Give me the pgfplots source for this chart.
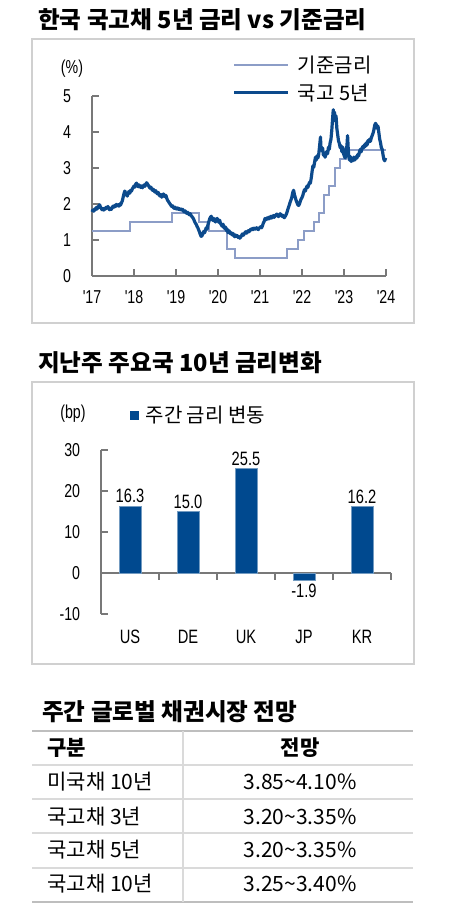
\documentclass[border=0pt]{standalone}
\usepackage{fontspec}
\usepackage{pgfplots}
\pgfplotsset{compat=1.18}
\setmainfont{Noto Sans CJK KR}
\newfontfamily\narrow{Liberation Sans}[FakeStretch=0.76]
\definecolor{kbond}{RGB}{12,74,140}
\definecolor{basec}{RGB}{140,157,199}
\definecolor{barc}{RGB}{0,73,143}
\definecolor{axisg}{RGB}{120,120,120}
\definecolor{frameg}{RGB}{208,208,208}
\definecolor{lineg}{RGB}{218,218,218}
\definecolor{lined}{RGB}{190,190,190}
\newcommand\MyTtl{\fontsize{17.7}{19}\selectfont\bfseries}
\newcommand\MyTk{\narrow\fontsize{14}{14}\selectfont}
\newcommand\MyLg{\fontsize{15}{16}\selectfont}
\newcommand\MyTb{\fontsize{15.8}{17}\selectfont}
\begin{document}
\begin{tikzpicture}
\begin{scope}[x=0.75pt,y=-0.75pt]
\path (0,0) rectangle (454,912);
% titles
\node[anchor=west,inner sep=0pt] at (38,20) {\MyTtl 한국 국고채 5년 금리 vs 기준금리};
\node[anchor=west,inner sep=0pt] at (38,363) {\MyTtl 지난주 주요국 10년 금리변화};
\node[anchor=west,inner sep=0pt] at (42,712) {\MyTtl 주간 글로벌 채권시장 전망};
% frames
\draw[frameg,line width=1.2pt] (32,39) rectangle (414,323);
\draw[frameg,line width=1.2pt] (32,382) rectangle (414,664);
% units
\node[inner sep=0pt] at (72,69) {\MyTk (\%)};
\node[inner sep=0pt] at (73,414) {\MyTk (bp)};
% table
\draw[lined,line width=1.4pt] (32,731) -- (413,731);
\draw[lineg,line width=1.1pt] (32,765) -- (413,765);
\draw[lineg,line width=1.1pt] (32,799) -- (413,799);
\draw[lineg,line width=1.1pt] (32,833) -- (413,833);
\draw[lineg,line width=1.1pt] (32,868) -- (413,868);
\draw[lined,line width=1.4pt] (32,902) -- (413,902);
\draw[lineg,line width=1.1pt] (183,731) -- (183,902);
\node[anchor=west,inner sep=0pt] at (47,748) {\MyTb\bfseries 구분};
\node[inner sep=0pt] at (300,748) {\MyTb\bfseries 전망};
\node[anchor=west,inner sep=0pt] at (47,782) {\MyTb 미국채 10년};
\node[anchor=west,inner sep=0pt] at (47,817) {\MyTb 국고채 3년};
\node[anchor=west,inner sep=0pt] at (47,850) {\MyTb 국고채 5년};
\node[anchor=west,inner sep=0pt] at (47,884) {\MyTb 국고채 10년};
\node[inner sep=0pt] at (300,782) {\MyTb 3.85\textasciitilde4.10\%};
\node[inner sep=0pt] at (300,817) {\MyTb 3.20\textasciitilde3.35\%};
\node[inner sep=0pt] at (300,850) {\MyTb 3.20\textasciitilde3.35\%};
\node[inner sep=0pt] at (300,884) {\MyTb 3.25\textasciitilde3.40\%};
\end{scope}

% ---------- line chart ----------
\begin{axis}[
  at={(69pt,-207pt)}, anchor=south west,
  scale only axis, width=220.5pt, height=135pt,
  xmin=2017, xmax=2024, ymin=0, ymax=5,
  axis lines=left,
  x axis line style={-, axisg, line width=1pt},
  y axis line style={-, axisg, line width=1pt},
  tick style={axisg, line width=0.8pt},
  tick align=inside, major tick length=5pt,
  xtick={2017,2018,2019,2020,2021,2022,2023,2024},
  xticklabels={'17,'18,'19,'20,'21,'22,'23,'24},
  ytick={0,1,2,3,4,5},
  yticklabel style={font=\MyTk, inner sep=0pt, xshift=-15.5pt, /pgf/number format/assume math mode=true},
  xticklabel style={font=\MyTk, inner sep=0pt, yshift=-10.5pt},
  legend style={draw=none, fill=none, at={(0.478,1.24)}, anchor=north west,
    inner sep=0pt, font=\MyLg, row sep=3pt, cells={anchor=west},
    /tikz/every odd column/.append style={column sep=4pt}},
  legend cell align=left,
  legend image code/.code={\draw[#1] (0pt,0pt) -- (40.5pt,0pt);},
  clip=false,
]
\addplot[basec, line width=1.6pt, const plot] coordinates {
(2017.00,1.25) (2017.91,1.50) (2018.91,1.75) (2019.54,1.50) (2019.79,1.25)
(2020.21,0.75) (2020.41,0.50) (2021.65,0.75) (2021.90,1.00) (2022.04,1.25)
(2022.28,1.50) (2022.40,1.75) (2022.53,2.25) (2022.65,2.50) (2022.78,3.00)
(2022.90,3.25) (2023.04,3.50) (2023.99,3.50)
};
\addlegendentry{기준금리}
\addplot[kbond, line width=2.4pt, line join=round] coordinates {
(2017.00,1.78) (2017.02,1.83) (2017.04,1.80) (2017.06,1.86) (2017.08,1.84)
(2017.10,1.90) (2017.12,1.86) (2017.14,1.93) (2017.16,1.90) (2017.18,1.98)
(2017.20,1.92) (2017.22,1.88) (2017.24,1.84) (2017.26,1.87) (2017.28,1.83)
(2017.30,1.88) (2017.32,1.86) (2017.34,1.91) (2017.36,1.89) (2017.38,1.93)
(2017.40,1.87) (2017.42,1.84) (2017.44,1.88) (2017.46,1.85) (2017.48,1.90)
(2017.50,1.94) (2017.52,1.91) (2017.54,1.96) (2017.56,1.93) (2017.58,1.99)
(2017.60,1.95) (2017.62,1.98) (2017.64,1.94) (2017.66,2.00) (2017.68,1.97)
(2017.70,2.03) (2017.72,2.08) (2017.74,2.18) (2017.76,2.28) (2017.78,2.36)
(2017.80,2.31) (2017.82,2.26) (2017.84,2.22) (2017.86,2.30) (2017.88,2.35)
(2017.90,2.30) (2017.92,2.38) (2017.94,2.36) (2017.96,2.42) (2017.98,2.46)
(2018.00,2.50) (2018.02,2.47) (2018.04,2.55) (2018.06,2.58) (2018.08,2.52)
(2018.10,2.48) (2018.12,2.53) (2018.14,2.49) (2018.16,2.46) (2018.18,2.50)
(2018.20,2.45) (2018.22,2.50) (2018.24,2.53) (2018.26,2.49) (2018.28,2.55)
(2018.30,2.59) (2018.32,2.56) (2018.34,2.52) (2018.36,2.48) (2018.38,2.44)
(2018.40,2.47) (2018.42,2.42) (2018.44,2.38) (2018.46,2.41) (2018.48,2.36)
(2018.50,2.33) (2018.52,2.37) (2018.54,2.31) (2018.56,2.28) (2018.58,2.32)
(2018.60,2.25) (2018.62,2.22) (2018.64,2.26) (2018.66,2.19) (2018.68,2.23)
(2018.70,2.28) (2018.72,2.24) (2018.74,2.20) (2018.76,2.24) (2018.78,2.16)
(2018.80,2.10) (2018.82,2.07) (2018.84,2.03) (2018.86,2.00) (2018.88,1.96)
(2018.90,1.93) (2018.92,1.95) (2018.94,1.90) (2018.96,1.88) (2018.98,1.91)
(2019.00,1.87) (2019.02,1.86) (2019.04,1.89) (2019.06,1.85) (2019.08,1.87)
(2019.10,1.84) (2019.12,1.86) (2019.14,1.83) (2019.16,1.85) (2019.18,1.80)
(2019.20,1.78) (2019.22,1.81) (2019.24,1.76) (2019.26,1.74) (2019.28,1.77)
(2019.30,1.72) (2019.32,1.70) (2019.34,1.73) (2019.36,1.68) (2019.38,1.65)
(2019.40,1.62) (2019.42,1.58) (2019.44,1.52) (2019.46,1.47) (2019.48,1.44)
(2019.50,1.38) (2019.52,1.34) (2019.54,1.28) (2019.56,1.22) (2019.58,1.15)
(2019.60,1.10) (2019.62,1.12) (2019.64,1.18) (2019.66,1.24) (2019.68,1.20)
(2019.70,1.27) (2019.72,1.34) (2019.74,1.30) (2019.76,1.42) (2019.78,1.50)
(2019.80,1.58) (2019.82,1.63) (2019.84,1.66) (2019.86,1.58) (2019.88,1.54)
(2019.90,1.60) (2019.92,1.55) (2019.94,1.50) (2019.96,1.56) (2019.98,1.60)
(2020.00,1.54) (2020.02,1.49) (2020.04,1.55) (2020.06,1.46) (2020.08,1.42)
(2020.10,1.38) (2020.12,1.44) (2020.14,1.35) (2020.16,1.32) (2020.18,1.36)
(2020.20,1.26) (2020.22,1.30) (2020.24,1.20) (2020.26,1.26) (2020.28,1.22)
(2020.30,1.17) (2020.32,1.20) (2020.34,1.14) (2020.36,1.18) (2020.38,1.12)
(2020.40,1.09) (2020.42,1.14) (2020.44,1.10) (2020.46,1.12) (2020.48,1.07)
(2020.50,1.09) (2020.52,1.05) (2020.54,1.08) (2020.56,1.12) (2020.58,1.17)
(2020.60,1.13) (2020.62,1.16) (2020.64,1.20) (2020.66,1.23) (2020.68,1.19)
(2020.70,1.22) (2020.72,1.26) (2020.74,1.23) (2020.76,1.27) (2020.78,1.30)
(2020.80,1.28) (2020.82,1.32) (2020.84,1.29) (2020.86,1.33) (2020.88,1.30)
(2020.90,1.31) (2020.92,1.34) (2020.94,1.31) (2020.96,1.29) (2020.98,1.33)
(2021.00,1.35) (2021.02,1.37) (2021.04,1.34) (2021.06,1.40) (2021.08,1.47)
(2021.10,1.52) (2021.12,1.60) (2021.14,1.56) (2021.16,1.61) (2021.18,1.58)
(2021.20,1.63) (2021.22,1.59) (2021.24,1.62) (2021.26,1.66) (2021.28,1.61)
(2021.30,1.65) (2021.32,1.68) (2021.34,1.63) (2021.36,1.67) (2021.38,1.70)
(2021.40,1.72) (2021.42,1.68) (2021.44,1.65) (2021.46,1.69) (2021.48,1.73)
(2021.50,1.70) (2021.52,1.66) (2021.54,1.69) (2021.56,1.64) (2021.58,1.62)
(2021.60,1.66) (2021.62,1.70) (2021.64,1.76) (2021.66,1.84) (2021.68,1.91)
(2021.70,1.98) (2021.72,2.06) (2021.74,2.12) (2021.76,2.20) (2021.78,2.32)
(2021.80,2.38) (2021.82,2.26) (2021.84,2.18) (2021.86,2.10) (2021.88,2.04)
(2021.90,1.98) (2021.92,1.96) (2021.94,2.00) (2021.96,2.08) (2021.98,2.14)
(2022.00,2.18) (2022.02,2.24) (2022.04,2.33) (2022.06,2.40) (2022.08,2.36)
(2022.10,2.44) (2022.12,2.50) (2022.14,2.46) (2022.16,2.54) (2022.18,2.60)
(2022.20,2.58) (2022.22,2.72) (2022.24,2.90) (2022.26,3.06) (2022.28,3.02)
(2022.30,3.16) (2022.32,3.30) (2022.34,3.22) (2022.36,3.34) (2022.38,3.28)
(2022.40,3.40) (2022.42,3.62) (2022.44,3.86) (2022.45,3.60) (2022.47,3.48)
(2022.49,3.56) (2022.51,3.35) (2022.53,3.42) (2022.55,3.30) (2022.57,3.38)
(2022.59,3.46) (2022.61,3.40) (2022.63,3.58) (2022.65,3.52) (2022.67,3.70)
(2022.69,3.80) (2022.71,4.06) (2022.73,4.40) (2022.745,4.62) (2022.76,4.35)
(2022.775,4.55) (2022.79,4.30) (2022.81,4.45) (2022.83,4.10) (2022.85,3.92)
(2022.87,3.75) (2022.89,3.68) (2022.91,3.56) (2022.93,3.62) (2022.95,3.45)
(2022.97,3.58) (2022.99,3.40) (2023.01,3.32) (2023.03,3.28) (2023.05,3.48)
(2023.07,3.62) (2023.085,3.90) (2023.10,3.55) (2023.115,3.30) (2023.13,3.22)
(2023.15,3.32) (2023.17,3.18) (2023.19,3.26) (2023.21,3.20) (2023.23,3.30)
(2023.25,3.22) (2023.27,3.25) (2023.29,3.32) (2023.31,3.28) (2023.33,3.38)
(2023.35,3.34) (2023.37,3.46) (2023.39,3.52) (2023.41,3.45) (2023.43,3.55)
(2023.45,3.60) (2023.47,3.56) (2023.49,3.65) (2023.51,3.60) (2023.53,3.70)
(2023.55,3.64) (2023.57,3.76) (2023.59,3.72) (2023.61,3.80) (2023.63,3.74)
(2023.65,3.84) (2023.67,3.90) (2023.69,3.96) (2023.71,4.05) (2023.73,4.18)
(2023.75,4.24) (2023.77,4.20) (2023.79,4.10) (2023.81,4.16) (2023.83,3.98)
(2023.85,3.80) (2023.87,3.70) (2023.89,3.56) (2023.91,3.52) (2023.93,3.36)
(2023.95,3.24) (2023.97,3.20) (2023.99,3.28)
};
\addlegendentry{국고 5년}
\end{axis}

% ---------- bar chart ----------
\begin{axis}[
  at={(75.75pt,-460.5pt)}, anchor=south west,
  scale only axis, width=217.5pt, height=123pt,
  xmin=-0.5, xmax=4.5, ymin=-10, ymax=30,
  axis y line=left, axis x line=middle,
  x axis line style={-, axisg, line width=1pt},
  y axis line style={-, axisg, line width=1pt},
  hide obscured x ticks=false, hide obscured y ticks=false,
  tick style={axisg, line width=0.8pt},
  tick align=inside, major tick length=5pt,
  xtick={0.5,1.5,2.5,3.5,4.5}, xticklabels={},
  ytick={-10,0,10,20,30},
  yticklabel style={font=\MyTk, inner sep=0pt, xshift=-15.5pt, /pgf/number format/assume math mode=true},
  ybar, bar width=16.5pt,
  nodes near coords={\pgfmathprintnumber[fixed,fixed zerofill,precision=1,assume math mode=true]{\pgfplotspointmeta}},
  nodes near coords align={vertical},
  every node near coord/.append style={font=\narrow\fontsize{14.5}{14.5}\selectfont, inner sep=2pt},
  legend style={draw=none, fill=none, at={(0.1,1.213)}, anchor=west,
    inner sep=0pt, font=\MyLg, cells={anchor=west},
    /tikz/every odd column/.append style={column sep=3pt}},
  legend image code/.code={\fill[barc] (0pt,-3pt) rectangle (6pt,3pt);},
  clip=false,
]
\addplot[fill=barc, draw=barc!55!white, line width=0.5pt] coordinates {
(0,16.3) (1,15.0) (2,25.5) (3,-1.9) (4,16.2)
};
\addlegendentry{주간 금리 변동}
\node[font=\narrow\fontsize{14.5}{14.5}\selectfont] at (axis cs:0,-15.6) {US};
\node[font=\narrow\fontsize{14.5}{14.5}\selectfont] at (axis cs:1,-15.6) {DE};
\node[font=\narrow\fontsize{14.5}{14.5}\selectfont] at (axis cs:2,-15.6) {UK};
\node[font=\narrow\fontsize{14.5}{14.5}\selectfont] at (axis cs:3,-15.6) {JP};
\node[font=\narrow\fontsize{14.5}{14.5}\selectfont] at (axis cs:4,-15.6) {KR};
\end{axis}
\end{tikzpicture}
\end{document}
